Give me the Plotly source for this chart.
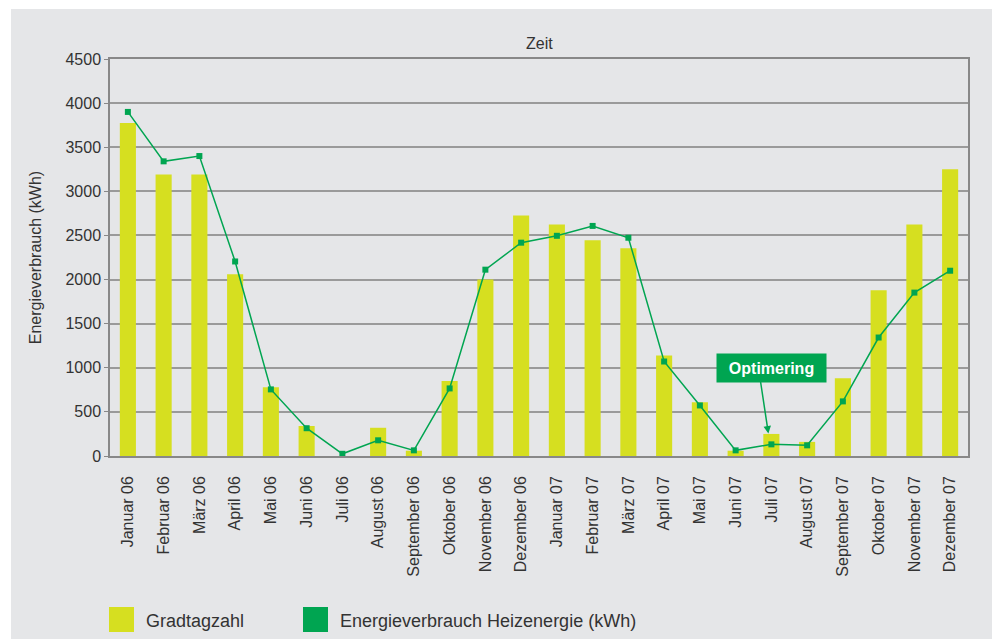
import plotly.graph_objects as go

months = ["Januar 06", "Februar 06", "März 06", "April 06", "Mai 06", "Juni 06",
          "Juli 06", "August 06", "September 06", "Oktober 06", "November 06", "Dezember 06",
          "Januar 07", "Februar 07", "März 07", "April 07", "Mai 07", "Juni 07",
          "Juli 07", "August 07", "September 07", "Oktober 07", "November 07", "Dezember 07"]
gradtagzahl = [3775, 3190, 3190, 2060, 780, 340, 0, 320, 60, 850, 2000, 2725,
               2625, 2445, 2355, 1140, 610, 60, 250, 160, 880, 1880, 2625, 3250]
energie = [3900, 3340, 3400, 2205, 755, 315, 25, 178, 64, 766, 2112, 2418,
           2496, 2608, 2474, 1071, 573, 64, 132, 121, 619, 1343, 1852, 2100]
yticks = [0, 500, 1000, 1500, 2000, 2500, 3000, 3500, 4000, 4500]

BAR = "#d6df20"
GREEN = "#00a551"
TXT = "#333333"
GRID = "#9a9a9a"
FONT = "Liberation Sans, Arial, sans-serif"

# page offset (body margin) and plot area in window pixels
OFF = 8
L, R, T, B = 110, 968, 59, 456
W, H = 1000 - OFF, 639 - OFF


def px(x):
    return (x - L) / (R - L)


def py(y):
    return (B - y) / (B - T)


fig = go.Figure()
fig.add_trace(go.Bar(x=months, y=gradtagzahl, name="Gradtagzahl",
                     marker=dict(color=BAR, line=dict(width=0)), width=0.45,
                     showlegend=False))
fig.add_trace(go.Scatter(x=months, y=energie, name="Energieverbrauch Heizenergie (kWh)",
                         mode="lines+markers", line=dict(color=GREEN, width=1.5),
                         marker=dict(symbol="square", size=6, color=GREEN),
                         showlegend=False))

shapes = [
    dict(type="rect", xref="paper", yref="paper", x0=px(11), x1=px(1010), y0=py(650), y1=py(9),
         fillcolor="#e5e6e8", line=dict(width=0), layer="below"),
    dict(type="rect", xref="paper", yref="paper", x0=px(109), x1=px(134), y0=py(632), y1=py(607),
         fillcolor=BAR, line=dict(width=0)),
    dict(type="rect", xref="paper", yref="paper", x0=px(303), x1=px(328), y0=py(632), y1=py(607),
         fillcolor=GREEN, line=dict(width=0)),
]

annotations = [
    dict(text="Zeit", xref="paper", yref="paper", x=0.5, y=py(43), yanchor="middle",
         xanchor="center", showarrow=False, font=dict(size=16, color=TXT, family=FONT)),
    dict(text="Gradtagzahl", xref="paper", yref="paper", x=px(144), y=py(621), xanchor="left",
         yanchor="middle", showarrow=False, font=dict(size=18, color=TXT, family=FONT)),
    dict(text="Energieverbrauch Heizenergie (kWh)", xref="paper", yref="paper", x=px(338), y=py(621),
         xanchor="left", yanchor="middle", showarrow=False, font=dict(size=18, color=TXT, family=FONT)),
    dict(text="", x="Juli 07", y=255, xshift=-3, showarrow=True, ax=-8, ay=-53,
         arrowhead=2, arrowsize=1, arrowwidth=1.5, arrowcolor=GREEN),
    dict(text="<b>Optimering</b>", x="Juli 07", y=995, showarrow=False,
         bgcolor=GREEN, width=107, height=26, font=dict(size=16, color="white", family=FONT)),
]

fig.update_layout(
    width=W, height=H,
    margin=dict(l=L - OFF, r=1000 - R, t=T - OFF, b=639 - B),
    paper_bgcolor="white",
    plot_bgcolor="rgba(0,0,0,0)",
    font=dict(family=FONT, color=TXT),
    shapes=shapes,
    annotations=annotations,
    bargap=0.55,
    showlegend=False,
)
fig.update_xaxes(range=[-0.5, len(months) - 0.5], autorange=False,
                 tickangle=-90, tickfont=dict(size=16, color=TXT, family=FONT),
                 showline=True, linecolor="#888888", linewidth=1.5, mirror=True,
                 showgrid=False, ticks="", ticklabelstandoff=12)
fig.update_yaxes(range=[0, 4500], tickvals=yticks, tickfont=dict(size=16, color=TXT, family=FONT),
                 showline=True, linecolor="#888888", linewidth=1.5, mirror=True,
                 showgrid=True, gridcolor=GRID, gridwidth=1.5,
                 ticks="outside", ticklen=4, tickcolor="#888888", zeroline=False,
                 title=dict(text="Energieverbrauch (kWh)", font=dict(size=16, color=TXT, family=FONT),
                            standoff=20))

fig.write_html("out.html")
